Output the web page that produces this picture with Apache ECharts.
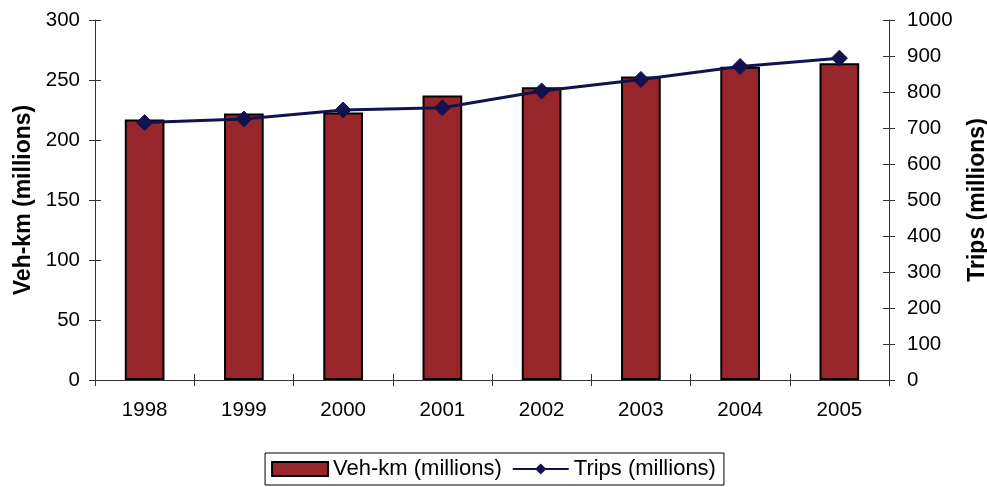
<!DOCTYPE html>
<html>
<head>
<meta charset="utf-8">
<title>Veh-km and Trips</title>
<script src="https://cdn.jsdelivr.net/npm/echarts@6/dist/echarts.min.js"></script>
<style>
  html, body { margin: 0; padding: 0; background: #ffffff; }
  #chart { width: 987px; height: 487px; }
</style>
</head>
<body>
<div id="chart"></div>
<script>
// Years on the category axis
const years = ['1998', '1999', '2000', '2001', '2002', '2003', '2004', '2005'];
// Vehicle-kilometres, millions (left axis)
const vehKm = [217, 222, 223, 237, 244, 253, 261, 264];
// Trips, millions (right axis)
const trips = [715, 725, 750, 756, 803, 835, 871, 894];

const FONT = '"Liberation Sans", Arial, sans-serif';
const AXIS_COLOR = '#333333';
const BAR_COLOR = '#962629';
const LINE_COLOR = '#12124f';
const LABEL_SIZE = 20.5;

const chart = echarts.init(document.getElementById('chart'), null, { renderer: 'canvas' });

const tickStyle = { show: true, length: 6, lineStyle: { color: AXIS_COLOR, width: 1 } };
const plainNumber = v => String(v);

chart.setOption({
  backgroundColor: '#ffffff',
  animation: false,
  textStyle: { fontFamily: FONT },
  grid: { left: 95, right: 98, top: 20, bottom: 107, containLabel: false, outerBoundsMode: 'none' },
  legend: {
    bottom: 2,
    left: 'center',
    itemWidth: 56,
    itemHeight: 14,
    itemGap: 10,
    padding: [5, 8, 5, 6],
    borderColor: '#000000',
    borderWidth: 1,
    borderRadius: 0,
    textStyle: { fontFamily: FONT, fontSize: 22, color: '#000000' },
    data: [
      { name: 'Veh-km (millions)', icon: 'rect' },
      { name: 'Trips (millions)' }
    ]
  },
  xAxis: [
    {
      type: 'category',
      data: years,
      boundaryGap: true,
      axisLine: { show: true, lineStyle: { color: AXIS_COLOR, width: 1 } },
      axisTick: { show: true, inside: false, length: 6, alignWithLabel: false, lineStyle: { color: AXIS_COLOR } },
      axisLabel: { margin: 20, fontFamily: FONT, fontSize: LABEL_SIZE, color: '#000000' },
      splitLine: { show: false }
    },
    {
      // Inner half of the crossing ticks on the category axis
      type: 'category',
      data: years,
      position: 'bottom',
      boundaryGap: true,
      axisLine: { show: false },
      axisTick: { show: true, inside: true, length: 6, lineStyle: { color: AXIS_COLOR } },
      axisLabel: { show: false },
      splitLine: { show: false }
    }
  ],
  yAxis: [
    {
      type: 'value',
      position: 'left',
      min: 0, max: 300, interval: 50,
      name: 'Veh-km (millions)',
      nameLocation: 'middle',
      nameGap: 60,
      nameRotate: 90,
      nameTextStyle: { fontFamily: FONT, fontSize: 23, fontWeight: 'bold', color: '#000000' },
      axisLine: { show: true, lineStyle: { color: AXIS_COLOR, width: 1 } },
      axisTick: tickStyle,
      axisLabel: { margin: 15, fontFamily: FONT, fontSize: LABEL_SIZE, color: '#000000', formatter: plainNumber },
      splitLine: { show: false }
    },
    {
      type: 'value',
      position: 'right',
      min: 0, max: 1000, interval: 100,
      name: 'Trips (millions)',
      nameLocation: 'middle',
      nameGap: 77,
      nameRotate: 90,
      nameTextStyle: { fontFamily: FONT, fontSize: 23, fontWeight: 'bold', color: '#000000' },
      axisLine: { show: true, lineStyle: { color: AXIS_COLOR, width: 1 } },
      axisTick: tickStyle,
      axisLabel: { margin: 18, fontFamily: FONT, fontSize: LABEL_SIZE, color: '#000000', formatter: plainNumber },
      splitLine: { show: false }
    },
    {
      // Inner half of the crossing ticks on the left axis
      type: 'value',
      position: 'left',
      min: 0, max: 300, interval: 50,
      axisLine: { show: false },
      axisTick: { show: true, inside: true, length: 6, lineStyle: { color: AXIS_COLOR } },
      axisLabel: { show: false },
      splitLine: { show: false }
    },
    {
      // Inner half of the crossing ticks on the right axis
      type: 'value',
      position: 'right',
      min: 0, max: 1000, interval: 100,
      axisLine: { show: false },
      axisTick: { show: true, inside: true, length: 6, lineStyle: { color: AXIS_COLOR } },
      axisLabel: { show: false },
      splitLine: { show: false }
    }
  ],
  series: [
    {
      name: 'Veh-km (millions)',
      type: 'bar',
      xAxisIndex: 0,
      yAxisIndex: 0,
      data: vehKm,
      barWidth: '40%',
      itemStyle: { color: BAR_COLOR, borderColor: '#000000', borderWidth: 2 }
    },
    {
      name: 'Trips (millions)',
      type: 'line',
      xAxisIndex: 0,
      yAxisIndex: 1,
      data: trips,
      symbol: 'diamond',
      symbolSize: 16,
      lineStyle: { color: LINE_COLOR, width: 3 },
      itemStyle: { color: LINE_COLOR, borderColor: LINE_COLOR },
      z: 5
    }
  ]
});
</script>
</body>
</html>
